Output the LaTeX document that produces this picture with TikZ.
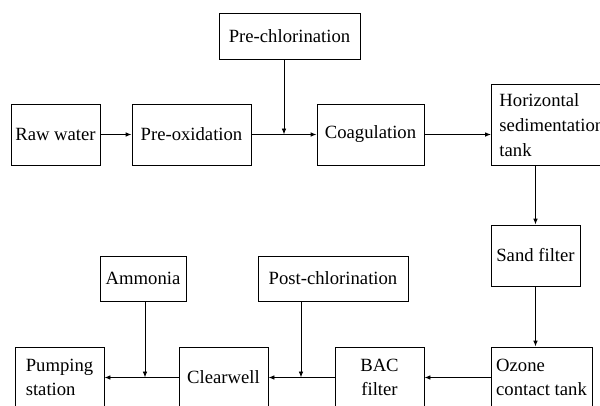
\documentclass[tikz,border=0pt]{standalone}
\usepackage{fontspec}
\setmainfont{Liberation Serif}
\usetikzlibrary{arrows.meta}
\begin{document}
\begin{tikzpicture}[x=0.75pt,y=-0.75pt,
  box/.style={draw,line width=0.7pt,inner sep=0pt,font=\fontsize{14}{18.5}\selectfont,align=center,minimum width=66.75pt,minimum height=45.75pt},
  flow/.style={line width=0.7pt,-{Latex[length=4.5pt,width=3.5pt]}}]
\useasboundingbox (0,0) rectangle (600,405);
\node[box] (raw) at (55.5,134.5) {Raw water};
\node[box,minimum width=89.25pt] (preox) at (191.5,134.5) {Pre-oxidation};
\node[box,minimum width=105.75pt,minimum height=34.5pt] (prechl) at (289.5,36) {Pre-chlorination};
\node[box,minimum width=80.25pt] (coag) at (370.5,134.5) {Coagulation};
\node[box,anchor=north west,align=left,text width=100pt,inner xsep=6pt,minimum height=60.75pt] (hst) at (491,84) {Horizontal\\sedimentation\\tank};
\node[box] (sand) at (535.5,255.5) {Sand filter};
\node[box,minimum width=75.75pt,align=left] (ozone) at (541.5,377.5) {Ozone\\contact tank};
\node[box] (bac) at (379.5,377.5) {BAC\\filter};
\node[box,minimum width=112.5pt,minimum height=33.75pt] (post) at (333,278.5) {Post-chlorination};
\node[box] (clear) at (223.5,377.5) {Clearwell};
\node[box,minimum width=64.5pt,minimum height=33.75pt] (amm) at (143,278.5) {Ammonia};
\node[box,align=left] (pump) at (59.5,377.5) {Pumping\\station};
\coordinate (j1) at (284,134.5);
\coordinate (j2) at (301,377.5);
\coordinate (j3) at (145,377.5);
\draw[flow] (raw) -- (preox);
\draw[flow] (preox) -- (coag);
\draw[flow] (prechl.south -| j1) -- (j1);
\draw[flow] (coag.east) -- (coag.east -| hst.west);
\draw[flow] (sand.north |- hst.south) -- (sand.north);
\draw[flow] (sand.south) -- (sand.south |- ozone.north);
\draw[flow] (ozone) -- (bac);
\draw[flow] (bac) -- (clear);
\draw[flow] (clear) -- (pump);
\draw[flow] (post.south -| j2) -- (j2);
\draw[flow] (amm.south -| j3) -- (j3);
\end{tikzpicture}
\end{document}
